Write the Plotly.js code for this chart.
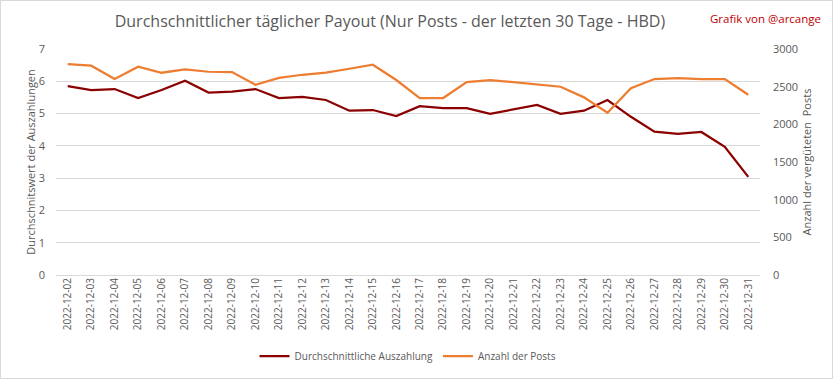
<!DOCTYPE html>
<html><head><meta charset="utf-8">
<script src="https://cdn.plot.ly/plotly-3.0.1.min.js"></script>
<style>
html,body{margin:0;padding:0;background:#fff;}
#chart{width:831px;height:377px;border:1px solid #d9d9d9;}
</style></head>
<body><div id="chart"></div>
<script>
const dates = ["2022-12-02","2022-12-03","2022-12-04","2022-12-05","2022-12-06","2022-12-07","2022-12-08","2022-12-09","2022-12-10","2022-12-11","2022-12-12","2022-12-13","2022-12-14","2022-12-15","2022-12-16","2022-12-17","2022-12-18","2022-12-19","2022-12-20","2022-12-21","2022-12-22","2022-12-23","2022-12-24","2022-12-25","2022-12-26","2022-12-27","2022-12-28","2022-12-29","2022-12-30","2022-12-31"];
const avgPayout = [5.85,5.73,5.76,5.48,5.73,6.02,5.65,5.68,5.76,5.48,5.52,5.42,5.09,5.11,4.92,5.23,5.17,5.17,4.99,5.13,5.27,4.99,5.09,5.42,4.90,4.44,4.37,4.43,3.97,3.04];
const postCount = [2800,2778,2601,2765,2685,2730,2698,2694,2525,2616,2658,2685,2738,2791,2588,2349,2349,2561,2588,2561,2525,2499,2358,2154,2481,2601,2614,2601,2601,2393];

const grey = '#595959';
const traces = [
  {x: dates, y: avgPayout, type:'scatter', mode:'lines', name:'Durchschnittliche Auszahlung',
   line:{color:'#8B0000', width:2.25}, yaxis:'y'},
  {x: dates, y: postCount, type:'scatter', mode:'lines', name:'Anzahl der Posts',
   line:{color:'#ED7D31', width:2.25}, yaxis:'y2'}
];
const layout = {
  width:831, height:377,
  margin:{l:55, r:72, t:48, b:103},
  paper_bgcolor:'#fff', plot_bgcolor:'#fff',
  font:{family:'Open Sans, sans-serif', color:grey, size:10},
  title:{text:'Durchschnittlicher täglicher Payout (Nur Posts - der letzten 30 Tage - HBD)',
         font:{size:16, color:grey}, x:0.468, xanchor:'center', yref:'container', y:0.945, yanchor:'middle'},
  xaxis:{type:'category', tickangle:-90, showgrid:false, showline:false, ticks:'',
         tickfont:{size:10, color:grey}, range:[-0.5, 29.5], automargin:false},
  yaxis:{range:[0,7], dtick:1, showgrid:true, gridcolor:'#d9d9d9', gridwidth:1,
         zeroline:true, zerolinecolor:'#d9d9d9', showline:false, ticks:'', ticklen:0,
         ticklabelstandoff:10, automargin:false,
         tickfont:{size:11, color:grey},
         title:{text:'Durchschnitswert der Auszahlungen', font:{size:11, color:grey}, standoff:0}},
  yaxis2:{range:[0,3000], dtick:500, overlaying:'y', side:'right', showgrid:false, zeroline:false,
          showline:false, ticks:'', tickfont:{size:11, color:grey}, ticklabelstandoff:12, automargin:false,
          title:{text:'Anzahl der vergüteten  Posts', font:{size:11, color:grey}, standoff:6}},
  showlegend:true,
  legend:{orientation:'h', x:0.5, xanchor:'center', yref:'container', y:0.058, yanchor:'middle',
          font:{size:10, color:grey}, itemwidth:30, tracegroupgap:0},
  annotations:[{text:'Grafik von @arcange', xref:'paper', yref:'paper', x:1.09, y:1.135,
                xanchor:'right', yanchor:'middle', showarrow:false,
                font:{size:11.5, color:'#C00000'}}]
};
Plotly.newPlot('chart', traces, layout, {displayModeBar:false, staticPlot:true});
</script></body></html>
